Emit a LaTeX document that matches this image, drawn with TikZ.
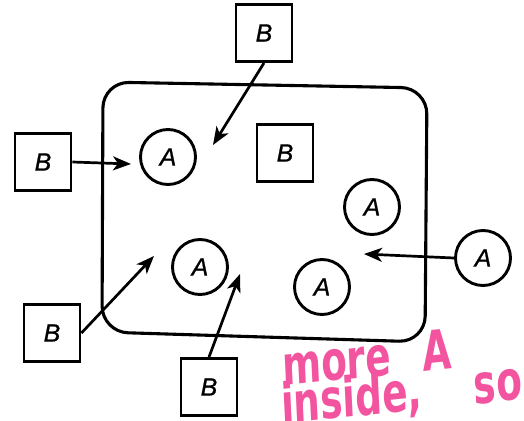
\documentclass[tikz,border=0pt]{standalone}
\usepackage{fontspec}
\setmainfont{Liberation Sans}
\newfontfamily\diagfont[FakeBold=0.8]{Liberation Sans}
\newfontfamily\marker{DejaVu Sans}
\usetikzlibrary{arrows.meta}
\definecolor{markerpink}{RGB}{242,84,160}
\begin{document}
\begin{tikzpicture}[x=1pt,y=-1pt,
  letter/.style={font=\diagfont\fontsize{25}{25}\selectfont\itshape},
  bbox/.style={letter, draw, line width=2.9pt, minimum width=56pt,
    minimum height=57pt, inner sep=0pt},
  abox/.style={letter, draw, circle, line width=2.9pt, minimum size=55pt,
    inner sep=0pt},
  flow/.style={line width=2.7pt,
    -{Stealth[length=18pt,width=14pt,inset=5pt]}},
  note/.style={text=markerpink, anchor=base west, xscale=0.68, rotate=4,
    inner sep=0pt, font=\marker\bfseries\fontsize{55}{55}\selectfont}]
  \useasboundingbox (0,0) rectangle (524,420);
  \fill[white] (0,0) rectangle (524,420);

  % the enclosing region
  \draw[line width=3.1pt, rounded corners=26pt]
    (103,82) -- (427,88) -- (425,342) -- (102,332) -- cycle;

  % B boxes
  \node[bbox] (bt)  at (264,33)  {B};
  \node[bbox] (bl)  at (43,162)  {B};
  \node[bbox] (bin) at (285,153) {B};
  \node[bbox] (bbl) at (52,333)  {B};
  \node[bbox] (bb)  at (209,387) {B};

  % A circles
  \node[abox] (a1)   at (168,157) {A};
  \node[abox] (a2)   at (372,207) {A};
  \node[abox] (a3)   at (200,267) {A};
  \node[abox] (a4)   at (322,287) {A};
  \node[abox] (aout) at (483,258) {A};

  % arrow targets
  \coordinate (tt)  at (213,145);
  \coordinate (tl)  at (131,164);
  \coordinate (tbl) at (154,256);
  \coordinate (tb)  at (240,274);
  \coordinate (tr)  at (364,254);

  \draw[flow] (bt.south) -- (tt);
  \draw[flow] (bl.east) -- (tl);
  \draw[flow] (bbl.east) -- (tbl);
  \draw[flow] (bb.north) -- (tb);
  \draw[flow] (aout.west) -- (tr);

  % handwritten note
  \node[note] (n1) at (283,386) {more\hspace{0.85em}A};
  \node[note] (n2) at (282,424) {inside,\hspace{1.4em}so};
\end{tikzpicture}
\end{document}
